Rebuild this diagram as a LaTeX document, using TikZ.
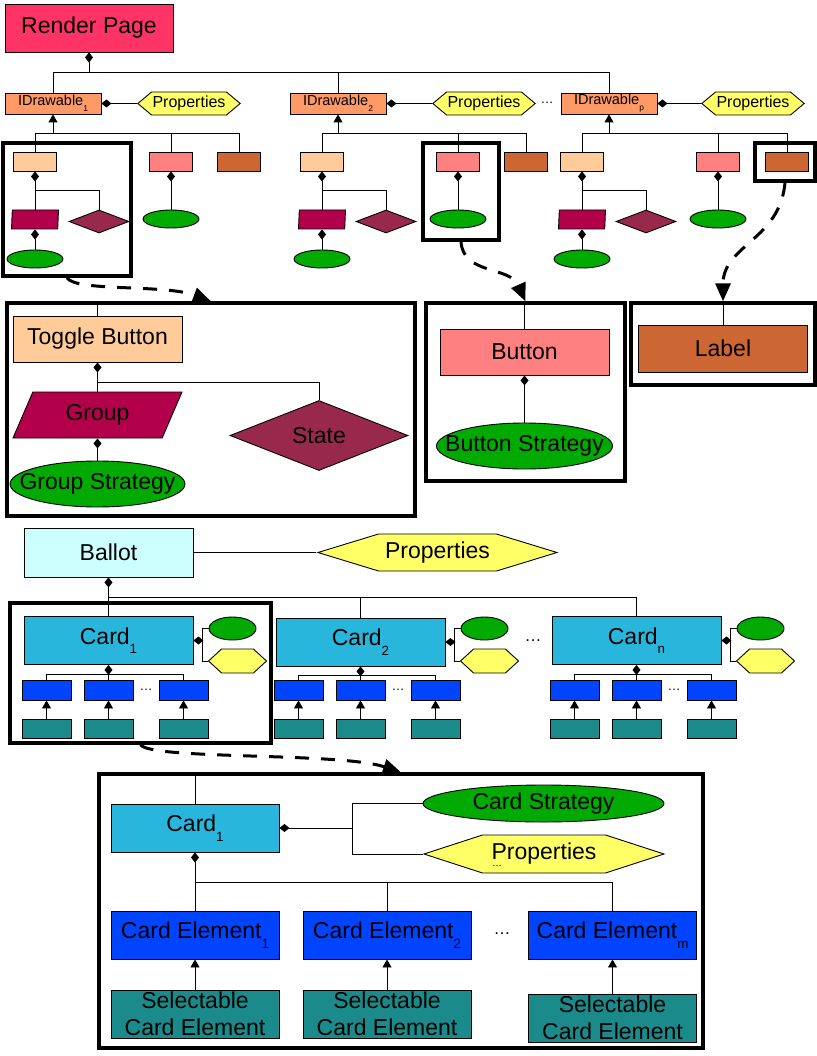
\documentclass[tikz,border=0pt]{standalone}
\usepackage{fontspec}
\setmainfont{Liberation Sans}
\usepackage{graphicx}
\usetikzlibrary{shapes.geometric,shapes.symbols,arrows.meta}

\definecolor{renderc}{HTML}{FF3366}
\definecolor{idrawc}{HTML}{FF9966}
\definecolor{propc}{HTML}{FFFF66}
\definecolor{peachc}{HTML}{FFCC99}
\definecolor{pinkc}{HTML}{FF8080}
\definecolor{brownc}{HTML}{CC6633}
\definecolor{groupc}{HTML}{B3004A}
\definecolor{statec}{HTML}{99284D}
\definecolor{stratc}{HTML}{00AA00}
\definecolor{ballotc}{HTML}{CCFFFF}
\definecolor{cardc}{HTML}{29B6DC}
\definecolor{elemc}{HTML}{0044FF}
\definecolor{selc}{HTML}{1A8A8A}

\newcommand{\lowsub}[1]{\raisebox{-0.42em}{\scalebox{0.58}{#1}}}

\begin{document}
\begin{tikzpicture}[x=1pt,y=-1pt,line width=0.9pt,
    big/.style={font=\fontsize{23}{27}\selectfont},
    comp/.style={draw, rectangle, inner sep=0pt, big},
    idraw/.style={draw, fill=idrawc, minimum width=96, minimum height=21, inner sep=0pt, font=\fontsize{14.5}{16}\selectfont},
    props/.style={draw, signal, signal to=east and west, fill=propc, inner sep=1pt},
    slot/.style={draw, rectangle, minimum width=43, minimum height=19, inner sep=0pt},
    strat/.style={draw, ellipse, fill=stratc, inner sep=0pt},
    grpshape/.style={draw, trapezium, trapezium stretches body=true, fill=groupc, inner sep=1pt},
    statebox/.style={draw, diamond, fill=statec, inner sep=0pt},
    hilite/.style={draw, rectangle, line width=3.3pt, inner sep=0pt},
    ellip/.style={inner sep=0pt, font=\fontsize{13}{13}\selectfont},
    has/.style={{Diamond[length=10pt,width=8pt]}-},
    isa/.style={{Triangle[length=8pt,width=9pt]}-},
    jump/.style={line width=3pt, dash pattern=on 14pt off 12pt, -{Triangle[length=18pt,width=15pt]}}]
    \useasboundingbox (0,0) rectangle (816,1056);

    % render page and its drawables
    \node[comp, fill=renderc, minimum width=168, minimum height=48] (render) at (89,28) {Render Page};
    \foreach \i/\s/\ix/\hx/\pc/\pk/\br in {1/1/53/189/35/171/239, 2/2/338/484/322/458/526, 3/p/609/753/582/718/787}{
        \node[idraw] (id\i) at (\ix,103.5) {IDrawable\lowsub{\s}};
        \node[props, minimum width=102, minimum height=23, signal pointer angle=80, font=\fontsize{16}{18}\selectfont] (pr\i) at (\hx,103.5) {Properties};
        \draw[has] (id\i.east) -- (pr\i.west);
        \node[slot, fill=peachc] (pe\i) at (\pc,161.5) {};
        \node[slot, fill=pinkc] (pk\i) at (\pk,161.5) {};
        \node[slot, fill=brownc] (br\i) at (\br,161.5) {};
        \draw[isa] (id\i.south) -- ++(0,19) coordinate (jd\i);
        \draw (pe\i.north) |- (jd\i) -| (br\i.north);
        \draw (pk\i.north) -- (pk\i.north |- jd\i);
        \node[grpshape, trapezium left angle=68, trapezium right angle=112, minimum width=47, minimum height=19] (gr\i) at (\pc,219.5) {};
        \node[statebox, minimum width=60, minimum height=23] (sta\i) at (\pc+64,221.5) {};
        \draw[has] (pe\i.south) -- ++(0,19) coordinate (jg\i);
        \draw (jg\i |- gr\i.north) -- (jg\i) -| (sta\i.north);
        \node[strat, minimum width=56, minimum height=18] (gs\i) at (\pc,259) {};
        \draw[has] (gs\i.north |- gr\i.south) -- (gs\i.north);
        \node[strat, minimum width=56, minimum height=18] (bs\i) at (\pk,219) {};
        \draw[has] (pk\i.south) -- (bs\i.north);
    }
    \node[ellip] (topdots) at (547,103) {\dots};
    \draw[has] (render.south) -- ++(0,20) coordinate (rk);
    \draw (id1.north) |- (rk) -| (id3.north);
    \draw (id2.north) -- (id2.north |- rk);

    \node[hilite, minimum width=128, minimum height=133] (fa) at (67,209.5) {};
    \node[hilite, minimum width=76, minimum height=97] (fb) at (461,191.5) {};
    \node[hilite, minimum width=60, minimum height=38] (fc) at (785,162) {};

    % toggle button, button, label
    \node[hilite, minimum width=408, minimum height=213] (ftog) at (211,409.5) {};
    \node[hilite, minimum width=199, minimum height=178] (fbut) at (525.5,392) {};
    \node[hilite, minimum width=184, minimum height=82] (flab) at (723,344) {};

    \node[comp, fill=peachc, minimum width=169, minimum height=46] (tb) at (97.5,339) {Toggle Button};
    \node[grpshape, big, trapezium left angle=49, trapezium right angle=131, minimum width=169, minimum height=46] (group) at (97.5,415) {Group};
    \node[statebox, big, minimum width=178, minimum height=69] (state) at (319,435.5) {State};
    \node[strat, big, minimum width=175, minimum height=46] (gstrat) at (97.5,484) {\makebox[0pt]{Group Strategy}};
    \draw (tb.north) -- (tb.north |- ftog.north);
    \draw[has] (tb.south) -- ++(0,20) coordinate (tk);
    \draw (tk |- group.north) -- (tk) -| (state.north);
    \draw[has] (gstrat.north |- group.south) -- (gstrat.north);

    \node[comp, fill=pinkc, minimum width=169, minimum height=46] (button) at (524.5,352) {Button};
    \node[strat, big, minimum width=176, minimum height=46] (bstrat) at (524.5,446) {\makebox[0pt]{Button Strategy}};
    \draw (button.north) -- (button.north |- fbut.north);
    \draw[has] (button.south) -- (bstrat.north);

    \node[comp, fill=brownc, minimum width=169, minimum height=47] (label) at (723,348.5) {Label};
    \draw (label.north) -- (label.north |- flab.north);

    \draw[jump] (fa.south) .. controls (75,292) and (165,284) .. (ftog.north);
    \draw[jump] (fb.south) .. controls (463,275) and (510,266) .. (fbut.north);
    \draw[jump] (fc.south) .. controls (780,240) and (723,245) .. (flab.north);

    % ballot and cards
    \node[comp, fill=ballotc, minimum width=169, minimum height=49] (ballot) at (108.5,552.5) {Ballot};
    \node[props, big, minimum width=239, minimum height=37, signal pointer angle=34] (bprops) at (437.5,552.5) {Properties};
    \draw (ballot.east) -- (bprops.west);
    \foreach \c/\s/\cx/\cy in {1/1/108.5/640.5, 2/2/360.5/642, 3/n/636.5/640.5}{
        \node[comp, fill=cardc, minimum width=169, minimum height=48] (cd\c) at (\cx,\cy) {Card\lowsub{\s}};
        \node[strat, minimum width=47, minimum height=23] (cs\c) at (\cx+124,628.5) {};
        \node[props, minimum width=58, minimum height=24, signal pointer angle=85] (cp\c) at (\cx+129,661) {};
        \draw[has] (cd\c.east) -- ++(9,0) coordinate (cb\c);
        \draw (cs\c.west) -| (cb\c) |- (cp\c.west);
        \foreach \e/\dx in {1/-62, 2/0, 3/75}{
            \node[slot, fill=elemc, minimum width=49, minimum height=20] (ce\c\e) at (\cx+\dx,690) {};
            \node[slot, fill=selc, minimum width=49, minimum height=19] (se\c\e) at (\cx+\dx,728.5) {};
            \draw[isa] (ce\c\e.south) -- (se\c\e.north);
        }
        \node[ellip] (cdots\c) at (\cx+37.5,690) {\dots};
        \draw[has] (cd\c.south) -- ++(0,9) coordinate (ck\c);
        \draw (ce\c1.north) |- (ck\c) -| (ce\c3.north);
        \draw (ce\c2.north) -- (ck\c);
    }
    \node[ellip, font=\fontsize{17}{17}\selectfont] (carddots) at (533,641) {\dots};
    \draw[has] (ballot.south) -- ++(0,20) coordinate (bk);
    \draw (cd1.north) |- (bk) -| (cd3.north);
    \draw (cd2.north) -- (cd2.north |- bk);

    \node[hilite, minimum width=261, minimum height=140] (fcard) at (140.5,673) {};
    \node[hilite, minimum width=604, minimum height=274] (fbot) at (401,911) {};
    \draw[jump] (fcard.south) .. controls (150,760) and (340,752) .. (fbot.north);

    % card in detail
    \node[comp, fill=cardc, minimum width=168, minimum height=48] (card) at (195,828) {Card\lowsub{1}};
    \node[strat, big, minimum width=241, minimum height=37] (cstrat) at (543.5,803.5) {Card Strategy};
    \node[props, big, minimum width=240, minimum height=38, signal pointer angle=36] (cprops) at (544,854) {Properties};
    \node[ellip, font=\fontsize{10}{10}\selectfont] (propdots) at (497,866) {\dots};
    \draw (card.north) -- (card.north |- fbot.north);
    \draw[has] (card.east) -- ++(73,0) coordinate (sk);
    \draw (cstrat.west) -| (sk) |- (cprops.west);
    \foreach \e/\ex/\sy in {1/195/1014, 2/387/1014, m/612.5/1018}{
        \node[comp, fill=elemc, minimum width=168, minimum height=48] (el\e) at (\ex,935) {Card Element\lowsub{\e}};
        \node[comp, fill=selc, minimum width=168, minimum height=48, align=center] (sel\e) at (\ex,\sy) {Selectable\\Card Element};
        \draw[isa] (el\e.south) -- (sel\e.north);
    }
    \node[ellip, font=\fontsize{17}{17}\selectfont] (eldots) at (502,934) {\dots};
    \draw[has] (card.south) -- ++(0,30) coordinate (ek);
    \draw (el1.north) |- (ek) -| (elm.north);
    \draw (el2.north) -- (el2.north |- ek);
\end{tikzpicture}
\end{document}
